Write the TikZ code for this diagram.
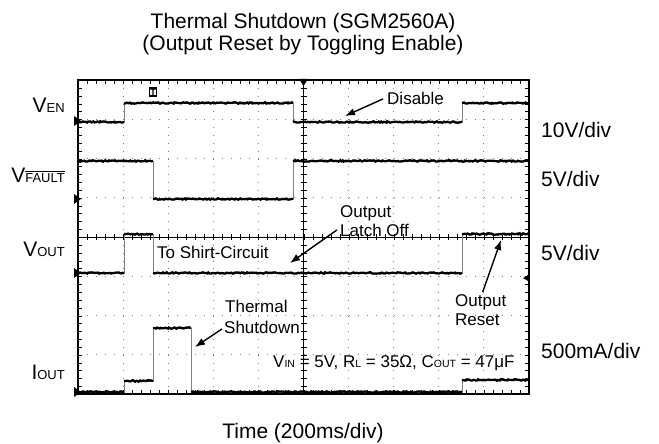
\documentclass[tikz,border=0pt]{standalone}
\usepackage{fontspec}
\setmainfont{Liberation Sans}
\usetikzlibrary{arrows.meta,decorations.pathmorphing,positioning}
\newcommand{\lsub}[1]{{\fontsize{13}{13}\selectfont #1}}
\newcommand{\csub}[1]{{\fontsize{10.5}{10.5}\selectfont #1}}

\begin{document}
\begin{tikzpicture}[x=1pt, y=-1pt,
  lbl/.style={inner sep=0, font=\fontsize{21}{24}\selectfont},
  note/.style={inner sep=0, anchor=base west, font=\fontsize{17}{20}\selectfont},
  trace/.style={black, line width=2.3pt, decorate, decoration={random steps, segment length=1.5pt, amplitude=0.7pt}},
  edge/.style={gray, line width=0.8pt},
  hdots/.style={gray, line width=0.9pt, dash pattern=on 0.9pt off 8.12pt},
  vdots/.style={gray, line width=0.9pt, dash pattern=on 0.9pt off 6.95pt},
  pointer/.style={black, line width=1.4pt, -{Latex[length=10pt, width=7.5pt]}}]
\useasboundingbox (0,0) rectangle (659,444);
\fill[white] (0,0) rectangle (659,444);
\draw[vdots] (123.1,80) -- (123.1,394);
\draw[vdots] (168.2,80) -- (168.2,394);
\draw[vdots] (213.3,80) -- (213.3,394);
\draw[vdots] (258.4,80) -- (258.4,394);
\draw[vdots] (348.6,80) -- (348.6,394);
\draw[vdots] (393.7,80) -- (393.7,394);
\draw[vdots] (438.8,80) -- (438.8,394);
\draw[vdots] (483.9,80) -- (483.9,394);
\draw[hdots] (78,119.25) -- (529,119.25);
\draw[hdots] (78,158.5) -- (529,158.5);
\draw[hdots] (78,197.75) -- (529,197.75);
\draw[hdots] (78,276.25) -- (529,276.25);
\draw[hdots] (78,315.5) -- (529,315.5);
\draw[hdots] (78,354.75) -- (529,354.75);
\draw[black, line width=0.8pt] (303.5,80) -- (303.5,394);
\draw[black, line width=0.8pt] (78,237) -- (529,237);
\draw[black, line width=6pt, dash pattern=on 0.8pt off 7.05pt] (303.5,80) -- (303.5,394);
\draw[black, line width=6pt, dash pattern=on 0.8pt off 8.22pt] (78,237) -- (529,237);
\draw[black, line width=4pt, dash pattern=on 0.8pt off 8.22pt] (78,82) -- (529,82);
\draw[black, line width=4pt, dash pattern=on 0.8pt off 8.22pt] (78,392) -- (529,392);
\draw[black, line width=4pt, dash pattern=on 0.8pt off 7.05pt] (80,80) -- (80,394);
\draw[black, line width=4pt, dash pattern=on 0.8pt off 7.05pt] (527,80) -- (527,394);
\draw[black, line width=1.6pt] (78,80) rectangle (529,394);
\draw[edge] (78,122) -| (124,103) -| (293,122) -| (462,103) -- (529,103);
\draw[trace] (78,122) -- (124,122);
\draw[trace] (124,103) -- (293,103);
\draw[trace] (293,122) -- (462,122);
\draw[trace] (462,103) -- (529,103);
\draw[edge] (78,161) -| (153,199) -| (293,161) -- (529,161);
\draw[trace] (78,161) -- (153,161);
\draw[trace] (153,199) -- (293,199);
\draw[trace] (293,161) -- (529,161);
\draw[edge] (78,273) -| (124,234) -| (153,273) -| (462,234) -- (529,234);
\draw[trace] (78,273) -- (124,273);
\draw[trace] (124,234) -- (153,234);
\draw[trace] (153,273) -- (462,273);
\draw[trace] (462,234) -- (529,234);
\draw[edge] (78,392) -| (124,381) -| (153,328) -| (191,392) -| (462,380) -- (529,380);
\draw[trace] (78,392) -- (124,392);
\draw[trace] (124,381) -- (153,381);
\draw[trace] (153,328) -- (191,328);
\draw[trace] (191,392) -- (462,392);
\draw[trace] (462,380) -- (529,380);
\fill[black] (74,116) -- (81,121) -- (74,126) -- cycle;
\fill[black] (74,194) -- (81,199) -- (74,204) -- cycle;
\fill[black] (74,268) -- (81,273) -- (74,278) -- cycle;
\fill[black] (74,387) -- (81,392) -- (74,397) -- cycle;
\fill[black] (299,79) -- (308,79) -- (303.5,86) -- cycle;
\fill[black] (523,278) -- (528,275) -- (528,281) -- cycle;
\node[draw, fill=white, line width=1.2pt, inner sep=1pt, font=\fontsize{9}{9}\selectfont\bfseries] (trig) at (153,92) {T};
\node[lbl, anchor=base] (title1) at (303,29) {Thermal Shutdown (SGM2560A)};
\node[lbl, anchor=base] (title2) at (303,51) {(Output Reset by Toggling Enable)};
\node[lbl, anchor=base] (timediv) at (303,438) {Time (200ms/div)};
\node[lbl, anchor=base east] (ven) at (65,112) {V\lsub{EN}};
\node[lbl, anchor=base east] (vfault) at (65,182) {V\ensuremath{\overline{\hbox{\lsub{FAULT}}}}};
\node[lbl, anchor=base east] (vout) at (65,256) {V\lsub{OUT}};
\node[lbl, anchor=base east] (iout) at (65,379) {I\lsub{OUT}};
\node[lbl, anchor=base west] (endiv) at (541,137) {10V/div};
\node[lbl, anchor=base west] (faultdiv) at (541,186) {5V/div};
\node[lbl, anchor=base west] (outdiv) at (541,260) {5V/div};
\node[lbl, anchor=base west] (curdiv) at (541,358) {500mA/div};
\node[note] (disable) at (387,105) {Disable};
\node[note] (latchtop) at (340,217) {Output};
\node[note] (latchoff) at (340,236) {Latch Off};
\node[note] (shirt) at (157,258) {To Shirt-Circuit};
\node[note] (thermtop) at (225,312) {Thermal};
\node[note] (thermshut) at (224,333) {Shutdown};
\node[note] (resettop) at (455,306) {Output};
\node[note] (resetbot) at (455,325) {Reset};
\node[note] (cond) at (273,367) {V\csub{IN} = 5V, R\csub{L} = 35Ω, C\csub{OUT} = 47μF};
\coordinate (distip) at (345,116);
\coordinate (latchtip) at (290,263);
\coordinate (shuttip) at (195,347);
\coordinate (resettip) at (501,240);
\draw[pointer] ([xshift=-4pt]disable.west) -- (distip);
\draw[pointer] ([xshift=-3pt]latchoff.west) -- (latchtip);
\draw[pointer] ([xshift=-2pt,yshift=-2pt]thermshut.west) -- (shuttip);
\draw[pointer] ([xshift=2pt,yshift=2pt]resettop.north) -- (resettip);
\end{tikzpicture}
\end{document}
